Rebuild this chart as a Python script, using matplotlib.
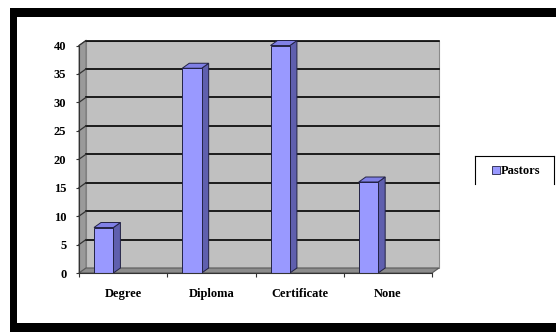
import matplotlib
matplotlib.use("Agg")
import matplotlib.pyplot as plt
from matplotlib.patches import Rectangle, Polygon
from matplotlib.lines import Line2D
from matplotlib.transforms import offset_copy, IdentityTransform
import numpy as np

# Data
categories = ["Degree", "Diploma", "Certificate", "None"]
pastors = [8, 36, 40, 16]
y_ticks = [0, 5, 10, 15, 20, 25, 30, 35, 40]
series_name = "Pastors"

W, H = 556, 332
DPI = 100
fig = plt.figure(figsize=(W / DPI, H / DPI), dpi=DPI)
fig.patch.set_facecolor("white")


def fx(px):
    return px / W


def fy(py):
    return 1 - py / H


# Front plane of the chart
ax = fig.add_axes([fx(79), fy(273), fx(432) - fx(79), fy(45.5) - fy(273)])
ax.set_xlim(0, len(categories))
ax.set_ylim(0, 40)
ax.patch.set_visible(False)

# depth offset of the 3D box (pixels)
DX, DY = 7, 5
back = offset_copy(ax.transData, fig=fig, x=DX, y=DY, units="dots")
ident = IdentityTransform()

def disp(x, y, off=False):
    p = ax.transData.transform((x, y))
    if off:
        p = p + np.array([DX, DY])
    return p

fig.canvas.draw()

ncat = len(categories)
ymax = y_ticks[-1]

# back wall
ax.add_patch(Rectangle((0, 0), ncat, ymax, transform=back, facecolor="#c0c0c0",
                       edgecolor="#8a8a8a", lw=0.8, clip_on=False, zorder=0))
# side wall
ax.add_patch(Polygon([disp(0, 0), disp(0, ymax), disp(0, ymax, True), disp(0, 0, True)],
                     closed=True, transform=ident, facecolor="#9a9a9a",
                     edgecolor="#7a7a7a", lw=0.8, clip_on=False, zorder=0.5))
# floor
ax.add_patch(Polygon([disp(0, 0), disp(ncat, 0), disp(ncat, 0, True), disp(0, 0, True)],
                     closed=True, transform=ident, facecolor="#8c8c8c",
                     edgecolor="#5a5a5a", lw=0.8, clip_on=False, zorder=0.5))

# gridlines on back and side walls
for v in y_ticks[1:]:
    ax.add_line(Line2D([0, ncat], [v, v], transform=back, color="black",
                       lw=1.2, clip_on=False, zorder=1))
    p0, p1 = disp(0, v), disp(0, v, True)
    ax.add_line(Line2D([p0[0], p1[0]], [p0[1], p1[1]], transform=ident,
                       color="#333333", lw=0.9, clip_on=False, zorder=1))

# 3D columns
bar_off, bar_w = 0.17, 0.22
front_c, side_c, top_c = "#9999ff", "#5f5fae", "#8080e6"
for i, val in enumerate(pastors):
    x0, x1 = i + bar_off, i + bar_off + bar_w
    ax.add_patch(Polygon([disp(x1, 0), disp(x1, val), disp(x1, val, True), disp(x1, 0, True)],
                         closed=True, transform=ident, facecolor=side_c,
                         edgecolor="#222244", lw=0.7, clip_on=False, zorder=3))
    ax.add_patch(Polygon([disp(x0, val), disp(x1, val), disp(x1, val, True), disp(x0, val, True)],
                         closed=True, transform=ident, facecolor=top_c,
                         edgecolor="#222244", lw=0.7, clip_on=False, zorder=3))
    ax.add_patch(Rectangle((x0, 0), bar_w, val, facecolor=front_c,
                           edgecolor="#222244", lw=0.7, clip_on=False, zorder=4))

# axes
for s in ["top", "right"]:
    ax.spines[s].set_visible(False)
ax.spines["left"].set_color("#333333")
ax.spines["bottom"].set_color("#333333")
ax.spines["left"].set_zorder(5)
ax.spines["bottom"].set_zorder(5)

font = dict(family="Liberation Serif", weight="bold", size=9)
ax.set_yticks(y_ticks)
ax.set_yticklabels([str(v) for v in y_ticks], fontdict=font)
ax.tick_params(axis="y", length=2.5, width=0.8, pad=6.5, color="#333333")

ax.set_xticks(range(ncat + 1))
ax.set_xticklabels([])
ax.tick_params(axis="x", which="major", length=3, width=0.8, color="#333333")
ax.set_xticks([i + 0.5 for i in range(ncat)], minor=True)
ax.set_xticklabels(categories, minor=True, fontdict=font)
ax.tick_params(axis="x", which="minor", length=0, pad=11)

# legend
handle = Rectangle((0, 0), 1, 1, facecolor=front_c, edgecolor="#222244", lw=0.6)
leg = fig.legend([handle], [series_name], loc="center left",
                 bbox_to_anchor=(fx(492), fy(171)), frameon=False,
                 prop=dict(family="Liberation Serif", weight="bold", size=9),
                 handlelength=0.6, handleheight=0.6, handletextpad=0.1,
                 borderpad=0, borderaxespad=0)
for xs, ys in [([475, 475], [156, 184]), ([475, 554], [156, 156]), ([554, 554], [156, 184])]:
    fig.add_artist(Line2D([fx(x) for x in xs], [fy(y) for y in ys],
                          transform=fig.transFigure, color="black", lw=0.8))

# outer black frame
for (x0, y0, x1, y1) in [(10, 8, 556, 17), (10, 8, 17, 332), (10, 323, 556, 332)]:
    fig.add_artist(Rectangle((fx(x0), fy(y1)), fx(x1) - fx(x0), fy(y0) - fy(y1),
                             transform=fig.transFigure, facecolor="black",
                             edgecolor="none"))

fig.savefig("out.png", dpi=DPI, facecolor="white")
